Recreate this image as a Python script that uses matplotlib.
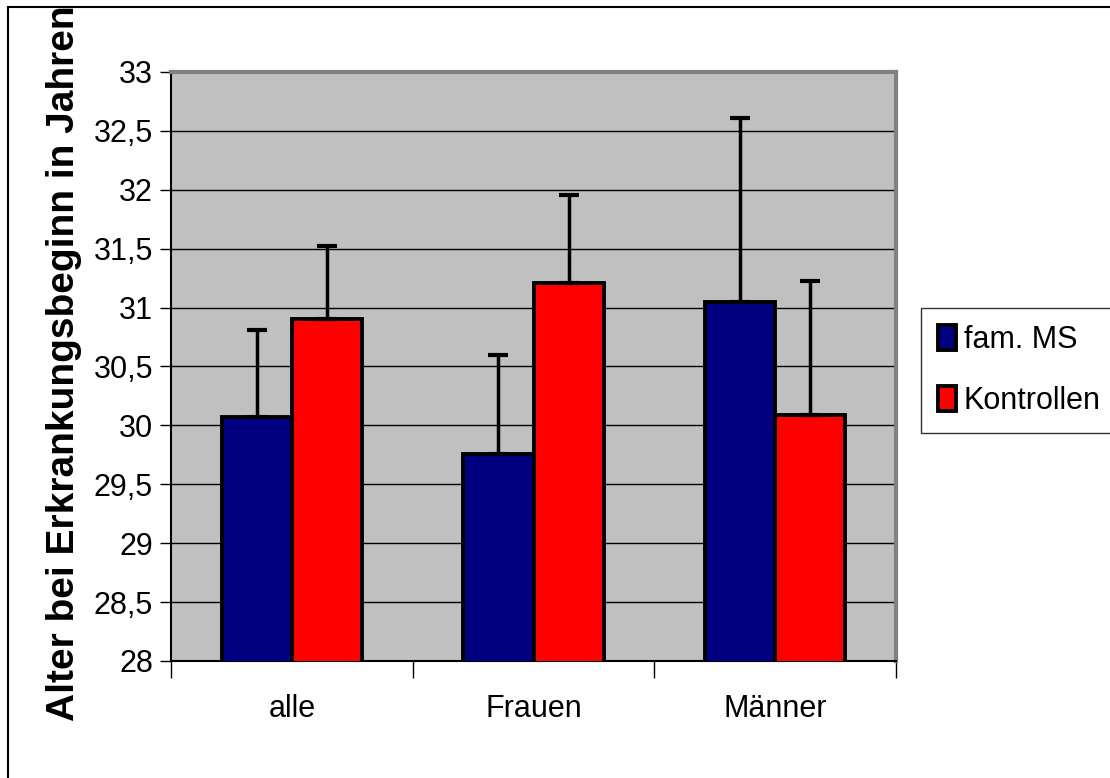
import numpy as np
import matplotlib
matplotlib.use("Agg")
import matplotlib.pyplot as plt
from matplotlib.patches import Rectangle

# data
categories = ["alle", "Frauen", "Männer"]
fam_ms = [30.07, 29.76, 31.05]
fam_ms_err = [0.74, 0.84, 1.56]
kontrollen = [30.90, 31.21, 30.09]
kontrollen_err = [0.62, 0.75, 1.14]
yticks = [28, 28.5, 29, 29.5, 30, 30.5, 31, 31.5, 32, 32.5, 33]
ytick_labels = [("%g" % v).replace(".", ",") for v in yticks]

plt.rcParams['font.family'] = ['Liberation Sans', 'DejaVu Sans']

fig = plt.figure(figsize=(11.1, 7.78), dpi=100)
ax = fig.add_axes([171/1110, 1-661/778, (896-171)/1110, (661-72)/778])
ax.set_facecolor("#C0C0C0")

x = np.arange(len(categories)) + 0.5
w = 0.29
ekw = dict(elinewidth=2.5, capthick=3, ecolor="black")
ax.bar(x - w/2, fam_ms, w, color="#000080", edgecolor="black",
       linewidth=2.8, label="fam. MS", zorder=3)
ax.bar(x + w/2, kontrollen, w, color="#FF0000", edgecolor="black",
       linewidth=2.8, label="Kontrollen", zorder=3)
ax.errorbar(x - w/2, fam_ms, yerr=[np.zeros(3), fam_ms_err], fmt="none",
            capsize=7, zorder=4, **ekw)
ax.errorbar(x + w/2, kontrollen, yerr=[np.zeros(3), kontrollen_err], fmt="none",
            capsize=7, zorder=4, **ekw)

ax.set_ylim(28, 33)
ax.set_xlim(0, 3)
ax.set_yticks(yticks)
ax.set_yticklabels(ytick_labels, fontsize=22)
ax.yaxis.grid(True, color="black", linewidth=1)
ax.set_axisbelow(True)

# category labels between boundary ticks
ax.set_xticks([0, 1, 2, 3])
ax.set_xticklabels([])
ax.set_xticks(x, minor=True)
ax.set_xticklabels(categories, minor=True, fontsize=22)
ax.tick_params(axis="x", which="major", length=12, direction="out", width=1)
ax.tick_params(axis="x", which="minor", length=0, pad=24)
ax.tick_params(axis="y", length=8, direction="out", width=1, pad=5)

for s in ["top", "right"]:
    ax.spines[s].set_color("#808080")
    ax.spines[s].set_linewidth(3)
ax.spines["left"].set_color("black")
ax.spines["bottom"].set_color("black")
ax.spines["left"].set_linewidth(1.5)
ax.spines["bottom"].set_linewidth(1.5)

ax.set_ylabel("Alter bei Erkrankungsbeginn in Jahren", fontsize=28,
              fontweight="bold")
ax.yaxis.set_label_coords(-0.123, 0.505)

leg = fig.legend(loc="upper left", bbox_to_anchor=(921/1110, 1-308/778),
                 fontsize=22, frameon=True, fancybox=False, borderpad=0.55,
                 handlelength=0.6, handleheight=0.9, handletextpad=0.25,
                 labelspacing=1.0, borderaxespad=0)
leg.get_frame().set_edgecolor("black")
leg.get_frame().set_linewidth(1)

# outer chart frame
fig.patches.append(Rectangle((8/1110, -0.1), 1.2, 1.1 - 7/778,
                             transform=fig.transFigure, fill=False,
                             edgecolor="black", linewidth=1.5))

fig.savefig("out.png", dpi=100)
